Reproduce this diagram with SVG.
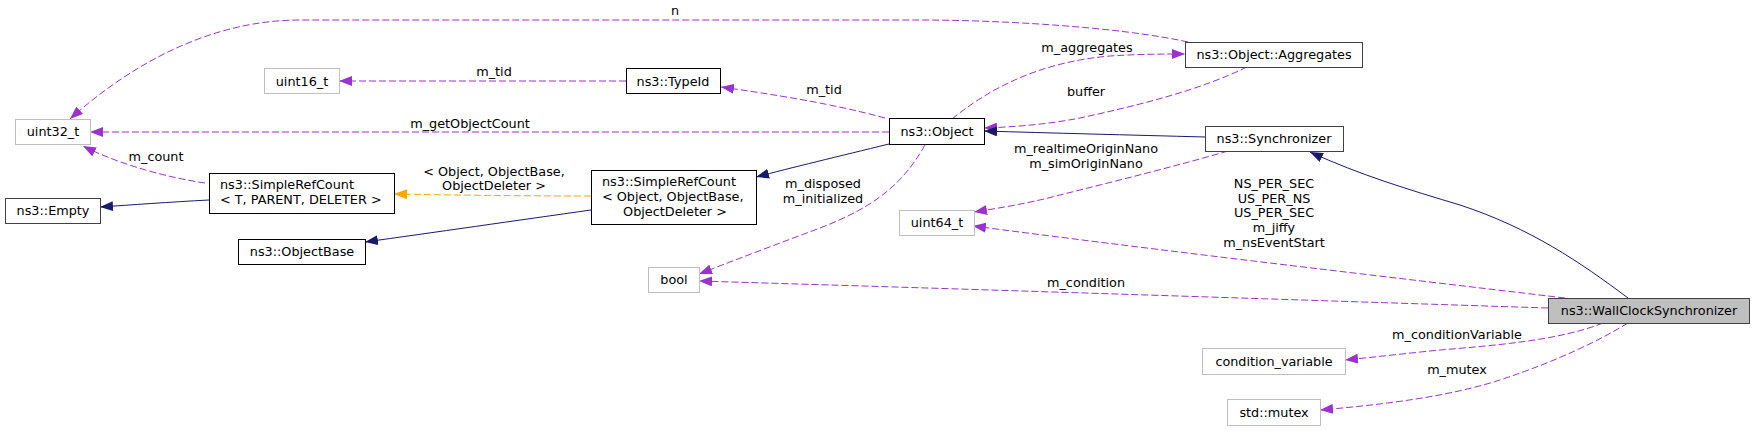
<svg xmlns="http://www.w3.org/2000/svg" width="1755" height="431" viewBox="0 0 1755 431">
<style>
text{font-family:"DejaVu Sans","Noto Sans",sans-serif;font-size:12.8px;fill:#000}
.c{text-anchor:middle}
.n rect{fill:#fff;stroke:#000;stroke-width:1}
.n.g rect{stroke:#bfbfbf}
.n.d rect{stroke:#404040}
.n.h rect{fill:#bfbfbf;stroke:#404040}
.e path{fill:none;stroke-width:1}
.u{stroke:#9a32cd;stroke-dasharray:7,3;marker-end:url(#ap)}
.i{stroke:#191970;marker-end:url(#an)}
.o{stroke:#ffa500;stroke-dasharray:7,3;marker-end:url(#ao)}
</style>
<defs>
<marker id="ap" viewBox="0 0 13 10" refX="13" refY="5" markerWidth="13" markerHeight="10" markerUnits="userSpaceOnUse" orient="auto"><path d="M0,0L13,5L0,10z" fill="#9a32cd"/></marker>
<marker id="an" viewBox="0 0 13 10" refX="13" refY="5" markerWidth="13" markerHeight="10" markerUnits="userSpaceOnUse" orient="auto"><path d="M0,0L13,5L0,10z" fill="#191970"/></marker>
<marker id="ao" viewBox="0 0 13 10" refX="13" refY="5" markerWidth="13" markerHeight="10" markerUnits="userSpaceOnUse" orient="auto"><path d="M0,0L13,5L0,10z" fill="#ffa500"/></marker>
</defs>
<rect width="1755" height="431" fill="#fff"/>
<g id="connectors" class="e">
<path class="u" d="M1188,42 C1120,27 1000,20 920,20 L300,20 C210,20 130,65 70,119"/>
<text class="c" x="675" y="15">n</text>
<path class="u" d="M626,81 L339,81"/>
<text class="c" x="494" y="76">m_tid</text>
<path class="u" d="M885,118 C830,103 770,94 721,87"/>
<text class="c" x="824" y="94">m_tid</text>
<path class="u" d="M889,132 L90,132"/>
<text class="c" x="470" y="128">m_getObjectCount</text>
<path class="u" d="M952,119 C990,88 1040,62 1110,56 C1140,54 1165,54 1185,54"/>
<text class="c" x="1087" y="52">m_aggregates</text>
<path class="u" d="M1247,67 C1200,90 1140,105 1080,118 C1050,124 1015,127 984,128"/>
<text class="c" x="1086" y="96">buffer</text>
<path class="i" d="M1205,137 C1130,135 1050,133 984,131"/>
<path class="i" d="M889,144 C840,156 790,168 756,177"/>
<path class="o" d="M591,196 C520,196 450,195 394,194"/>
<text class="c" x="494" y="176">&lt; Object, ObjectBase,</text>
<text class="c" x="494" y="190">ObjectDeleter &gt;</text>
<path class="i" d="M209,200 C170,202 130,205 100,207"/>
<path class="i" d="M591,210 C520,220 430,233 365,242"/>
<path class="u" d="M205,183 C170,178 120,165 83,146"/>
<text class="c" x="156" y="161">m_count</text>
<path class="u" d="M925,145 C905,180 880,205 820,228 C780,243 740,258 699,274"/>
<text class="c" x="823" y="188">m_disposed</text>
<text class="c" x="823" y="203">m_initialized</text>
<path class="u" d="M1228,151 C1180,165 1120,180 1060,195 C1030,203 1000,208 974,212"/>
<text class="c" x="1086" y="153">m_realtimeOriginNano</text>
<text class="c" x="1086" y="168">m_simOriginNano</text>
<path class="u" d="M1565,298 C1380,276 1180,253 973,226"/>
<text class="c" x="1274" y="188">NS_PER_SEC</text>
<text class="c" x="1274" y="203">US_PER_NS</text>
<text class="c" x="1274" y="217">US_PER_SEC</text>
<text class="c" x="1274" y="232">m_jiffy</text>
<text class="c" x="1274" y="247">m_nsEventStart</text>
<path class="u" d="M1548,308 C1300,300 1000,290 699,281"/>
<text class="c" x="1086" y="287">m_condition</text>
<path class="i" d="M1628,298 C1580,262 1530,228 1460,205 C1410,190 1360,175 1310,152"/>
<path class="u" d="M1603,323 C1560,340 1500,345 1440,350 C1410,353 1375,357 1345,360"/>
<text class="c" x="1457" y="339">m_conditionVariable</text>
<path class="u" d="M1628,323 C1600,340 1560,360 1500,380 C1450,396 1390,404 1320,410"/>
<text class="c" x="1457" y="374">m_mutex</text>
</g>
<g id="uint32_t" class="n g"><rect x="15.5" y="119.5" width="75" height="25"/><text class="c" x="53" y="136">uint32_t</text></g>
<g id="uint16_t" class="n g"><rect x="264.5" y="68.5" width="75" height="25"/><text class="c" x="302" y="86">uint16_t</text></g>
<g id="ns3_Empty" class="n d"><rect x="5.5" y="198.5" width="95" height="25"/><text class="c" x="53" y="215">ns3::Empty</text></g>
<g id="ns3_SimpleRefCount_T" class="n"><rect x="209.5" y="173.5" width="185" height="40"/><text x="220" y="189">ns3::SimpleRefCount</text><text x="220" y="204">&lt; T, PARENT, DELETER &gt;</text></g>
<g id="ns3_ObjectBase" class="n"><rect x="238.5" y="239.5" width="127" height="25"/><text class="c" x="302" y="256">ns3::ObjectBase</text></g>
<g id="ns3_TypeId" class="n"><rect x="626.5" y="68.5" width="94" height="25"/><text class="c" x="673" y="86">ns3::TypeId</text></g>
<g id="ns3_SimpleRefCount_Object" class="n"><rect x="591.5" y="170.5" width="165" height="54"/><text x="602" y="186">ns3::SimpleRefCount</text><text x="602" y="201">&lt; Object, ObjectBase,</text><text class="c" x="675" y="215.5">ObjectDeleter &gt;</text></g>
<g id="ns3_Object" class="n"><rect x="889.5" y="118.5" width="95" height="26"/><text class="c" x="937" y="136">ns3::Object</text></g>
<g id="ns3_Object_Aggregates" class="n d"><rect x="1185.5" y="42.5" width="177" height="25"/><text class="c" x="1274" y="59">ns3::Object::Aggregates</text></g>
<g id="ns3_Synchronizer" class="n d"><rect x="1205.5" y="126.5" width="138" height="25"/><text class="c" x="1274" y="143">ns3::Synchronizer</text></g>
<g id="uint64_t" class="n g"><rect x="899.5" y="210.5" width="75" height="25"/><text class="c" x="937" y="227">uint64_t</text></g>
<g id="bool" class="n g"><rect x="648.5" y="267.5" width="51" height="25"/><text class="c" x="674" y="284">bool</text></g>
<g id="ns3_WallClockSynchronizer" class="n h"><rect x="1548.5" y="298.5" width="201" height="25"/><text class="c" x="1649" y="315">ns3::WallClockSynchronizer</text></g>
<g id="condition_variable" class="n g"><rect x="1202.5" y="348.5" width="143" height="26"/><text class="c" x="1274" y="366">condition_variable</text></g>
<g id="std_mutex" class="n g"><rect x="1227.5" y="399.5" width="93" height="26"/><text class="c" x="1274" y="417">std::mutex</text></g>
</svg>
